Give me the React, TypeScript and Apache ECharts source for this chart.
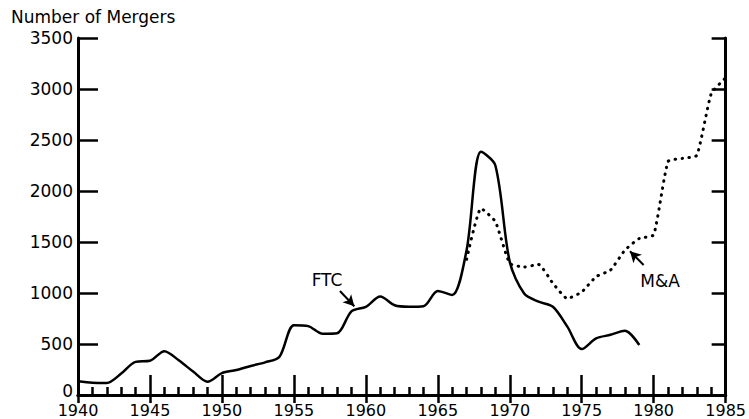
import React, { useEffect, useRef } from "react";
import * as echarts from "echarts";

const ftcYears = [1940, 1941, 1942, 1943, 1944, 1945, 1946, 1947, 1948, 1949, 1950, 1951, 1952, 1953, 1954, 1955, 1956, 1957, 1958, 1959, 1960, 1961, 1962, 1963, 1964, 1965, 1966, 1967, 1968, 1969, 1970, 1971, 1972, 1973, 1974, 1975, 1976, 1977, 1978, 1979];
const ftcValues = [135, 120, 118, 210, 325, 335, 430, 340, 230, 130, 215, 245, 285, 320, 375, 685, 675, 600, 605, 820, 865, 965, 880, 865, 870, 1020, 980, 1420, 2385, 2250, 1305, 995, 915, 865, 670, 450, 555, 590, 630, 490];

const maYears = [1967, 1968, 1969, 1970, 1971, 1972, 1973, 1974, 1975, 1976, 1977, 1978, 1979, 1980, 1981, 1982, 1983, 1984, 1985];
const maValues = [1330, 1830, 1700, 1290, 1255, 1280, 1095, 945, 1010, 1160, 1225, 1420, 1535, 1570, 2290, 2320, 2350, 2955, 3110];

const xTicks = [1940, 1945, 1950, 1955, 1960, 1965, 1970, 1975, 1980, 1985];
const yTicks = [0, 500, 1000, 1500, 2000, 2500, 3000, 3500];

const FONT = "DejaVu Sans";

export default function App() {
  const ref = useRef<HTMLDivElement>(null);
  useEffect(() => {
    if (!ref.current) return;
    const chart = echarts.init(ref.current, undefined, { renderer: "svg" });
    const xMin = xTicks[0];
    const xMax = xTicks[xTicks.length - 1];
    const yMin = yTicks[0];
    const yMax = yTicks[yTicks.length - 1];
    chart.setOption({
      animation: false,
      backgroundColor: "#fff",
      title: {
        text: "Number of Mergers",
        left: 6,
        top: 3,
        textStyle: { fontFamily: FONT, fontSize: 17, fontWeight: "normal", color: "#000" },
      },
      grid: { left: 78, right: 22, top: 38, bottom: 24, containLabel: false },
      xAxis: [
        {
          type: "value",
          min: xMin,
          max: xMax,
          interval: 5,
          axisLine: { show: true, lineStyle: { color: "#000", width: 3 } },
          axisTick: { show: true, inside: true, length: 20, lineStyle: { color: "#000", width: 2.5 } },
          minorTick: { show: true, splitNumber: 5, length: 8, lineStyle: { color: "#000", width: 2.5 } },
          splitLine: { show: false },
          axisLabel: {
            formatter: (v: number) => String(v),
            fontFamily: FONT,
            fontSize: 16,
            lineHeight: 14,
            color: "#000",
            margin: 8,
          },
        },
        {
          type: "value",
          position: "top",
          min: xMin,
          max: xMax,
          interval: 5,
          axisLine: { show: true, lineStyle: { color: "#000", width: 3 } },
          axisTick: { show: true, inside: true, length: 8, lineStyle: { color: "#000", width: 2.5 } },
          splitLine: { show: false },
          axisLabel: { show: false },
        },
      ],
      yAxis: [
        {
          type: "value",
          min: yMin,
          max: yMax,
          interval: 500,
          axisLine: { show: true, lineStyle: { color: "#000", width: 3 } },
          axisTick: { show: true, inside: true, length: 20, lineStyle: { color: "#000", width: 2.5 } },
          splitLine: { show: false },
          axisLabel: {
            formatter: (v: number) => (v === 0 ? "{z|0}" : String(v)),
            fontFamily: FONT,
            fontSize: 17,
            lineHeight: 12,
            color: "#000",
            margin: 5,
            rich: {
              z: { fontFamily: FONT, fontSize: 17, lineHeight: 12, color: "#000", padding: [0, 0, 8, 0] },
            },
          },
        },
        {
          type: "value",
          position: "right",
          min: yMin,
          max: yMax,
          interval: 500,
          axisLine: { show: true, lineStyle: { color: "#000", width: 3 } },
          axisTick: { show: true, inside: true, length: 14, lineStyle: { color: "#000", width: 2.5 } },
          splitLine: { show: false },
          axisLabel: { show: false },
        },
      ],
      series: [
        {
          name: "FTC",
          type: "line",
          data: ftcYears.map((y, i) => [y, ftcValues[i]]),
          smooth: 0.3,
          symbol: "none",
          lineStyle: { color: "#000", width: 2.5 },
          markLine: {
            silent: true,
            symbol: ["none", "arrow"],
            symbolSize: [9, 11],
            label: { show: false },
            lineStyle: { color: "#000", width: 2, type: "solid" },
            data: [
              [{ coord: [1958.2, 1020] }, { coord: [1959.2, 870] }],
            ],
          },
        },
        {
          name: "M&A",
          type: "line",
          data: maYears.map((y, i) => [y, maValues[i]]),
          smooth: 0.15,
          symbol: "none",
          lineStyle: { color: "#000", width: 3, type: [0.5, 6.5], cap: "round" },
          markLine: {
            silent: true,
            symbol: ["none", "arrow"],
            symbolSize: [9, 11],
            label: { show: false },
            lineStyle: { color: "#000", width: 2, type: "solid" },
            data: [
              [{ coord: [1979.3, 1275] }, { coord: [1978.35, 1410] }],
            ],
          },
        },
      ],
      graphic: [
        {
          type: "text",
          x: 327,
          y: 280,
          style: { text: "FTC", fontFamily: FONT, fontSize: 17, fill: "#000", align: "center", verticalAlign: "middle" },
        },
        {
          type: "text",
          x: 660,
          y: 281,
          style: { text: "M&A", fontFamily: FONT, fontSize: 17, fill: "#000", align: "center", verticalAlign: "middle" },
        },
      ],
    });
    return () => chart.dispose();
  }, []);
  return <div ref={ref} style={{ position: "fixed", left: 0, top: 0, width: 749, height: 419 }} />;
}
